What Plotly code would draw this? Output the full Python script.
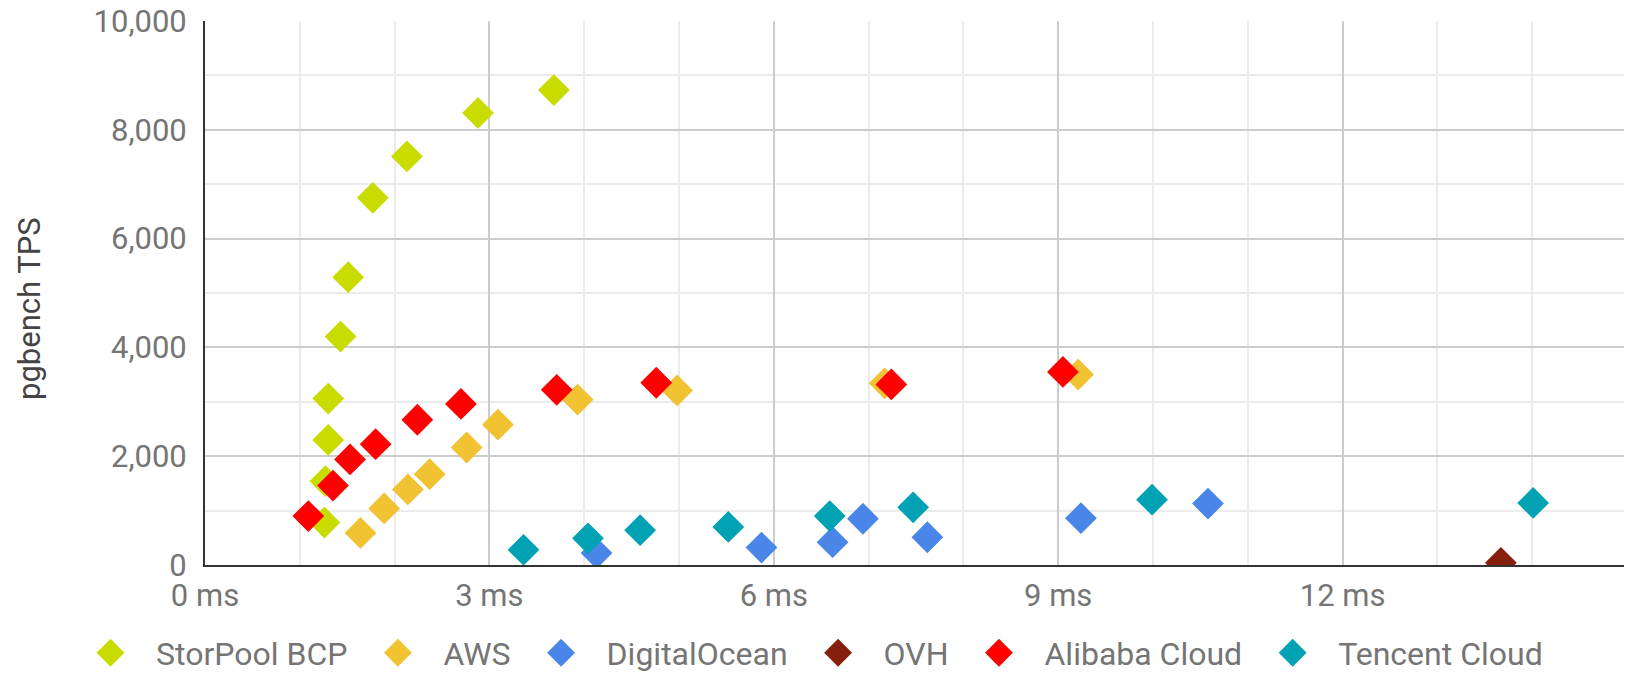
import plotly.graph_objects as go

# ---- data (latency in ms, pgbench TPS) ----
storpool_x = [1.26, 1.27, 1.30, 1.30, 1.43, 1.51, 1.77, 2.13, 2.88, 3.68]
storpool_y = [780, 1540, 2300, 3060, 4200, 5290, 6750, 7510, 8310, 8730]

aws_x = [1.64, 1.89, 2.14, 2.37, 2.76, 3.09, 3.93, 4.98, 7.17, 9.21]
aws_y = [590, 1040, 1390, 1670, 2160, 2580, 3040, 3210, 3340, 3500]

do_x = [4.13, 5.87, 6.62, 6.94, 7.62, 9.24, 10.58]
do_y = [220, 320, 420, 850, 510, 860, 1130]

ovh_x = [13.67]
ovh_y = [40]

alibaba_x = [1.09, 1.35, 1.53, 1.80, 2.24, 2.70, 3.71, 4.76, 7.24, 9.05]
alibaba_y = [900, 1460, 1940, 2220, 2670, 2960, 3220, 3350, 3320, 3550]

tencent_x = [3.36, 4.04, 4.59, 5.52, 6.59, 7.47, 9.99, 14.01]
tencent_y = [280, 490, 640, 700, 900, 1060, 1200, 1140]

series_names = ["StorPool BCP", "AWS", "DigitalOcean", "OVH", "Alibaba Cloud", "Tencent Cloud"]
series_colors = ["#c8dc00", "#f1c232", "#4a86e8", "#85200c", "#ff0000", "#00a2b4"]
series_x = [storpool_x, aws_x, do_x, ovh_x, alibaba_x, tencent_x]
series_y = [storpool_y, aws_y, do_y, ovh_y, alibaba_y, tencent_y]

x_tickvals = [0, 3, 6, 9, 12]
x_ticktext = ["0 ms", "3 ms", "6 ms", "9 ms", "12 ms"]
y_tickvals = [0, 2000, 4000, 6000, 8000, 10000]

FONT = "Roboto"
TICK_COLOR = "#757575"

# the page body adds an 8px offset, so the figure is 8px smaller than the window
FIG_W, FIG_H = 1624, 665
PLOT_L, PLOT_T, PLOT_R, PLOT_B = 197, 13, 1619, 557
PW, PH = PLOT_R - PLOT_L, PLOT_B - PLOT_T

fig = go.Figure()
for name, color, xs, ys in zip(series_names, series_colors, series_x, series_y):
    fig.add_trace(go.Scatter(
        x=xs, y=ys, name=name, mode="markers",
        marker=dict(symbol="diamond", size=19, color=color,
                    line=dict(width=5, color=color)),
    ))

fig.update_layout(
    width=FIG_W, height=FIG_H,
    margin=dict(l=PLOT_L, r=FIG_W - PLOT_R, t=PLOT_T, b=FIG_H - PLOT_B,
                pad=0, autoexpand=False),
    paper_bgcolor="white", plot_bgcolor="white",
    font=dict(family=FONT, size=31, color=TICK_COLOR),
    showlegend=True,
    legend=dict(
        orientation="h", xref="paper", yref="paper",
        x=(57 - PLOT_L) / PW, xanchor="left",
        y=(PLOT_B - 645) / PH, yanchor="middle",
        font=dict(family=FONT, size=32, color=TICK_COLOR),
        itemwidth=81, bgcolor="rgba(0,0,0,0)",
    ),
    xaxis=dict(
        range=[0, 15], tickmode="array", tickvals=x_tickvals, ticktext=x_ticktext,
        showgrid=True, gridcolor="#cccccc", gridwidth=2,
        minor=dict(dtick=1, tick0=0, showgrid=True, gridcolor="#ebebeb", gridwidth=2),
        showline=True, linecolor="#333333", linewidth=2,
        zeroline=False, ticks="", ticklabelstandoff=2, automargin=False,
        ticklabeloverflow="allow",
        tickfont=dict(family=FONT, size=31, color=TICK_COLOR),
    ),
    yaxis=dict(
        range=[0, 10000], tickmode="array", tickvals=y_tickvals, tickformat=",d",
        showgrid=True, gridcolor="#cccccc", gridwidth=2,
        minor=dict(dtick=1000, tick0=0, showgrid=True, gridcolor="#ebebeb", gridwidth=2),
        showline=True, linecolor="#333333", linewidth=2,
        zeroline=False, ticks="", ticklabelstandoff=10, automargin=False,
        ticklabeloverflow="allow",
        tickfont=dict(family=FONT, size=31, color=TICK_COLOR),
    ),
    annotations=[dict(
        text="pgbench TPS", textangle=-90, xref="paper", yref="paper",
        x=-176 / PW, y=256 / PH, xanchor="center", yanchor="middle",
        showarrow=False, font=dict(family=FONT, size=31, color="#444444"),
    )],
)

fig.write_html("out.html")
